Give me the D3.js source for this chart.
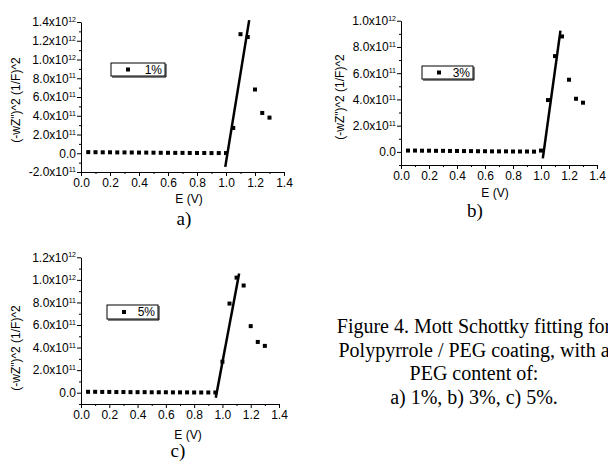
<!DOCTYPE html>
<html>
    <head>
        <title>Mott Schottky</title>
        <style>
body {
    margin: 0;
    background: #fff;
}
svg {
    display: block;
}
        </style>
    </head>
    <body>
        <script src="https://d3js.org/d3.v7.min.js"></script>
        <script>

// E (V) grid shared by the three measurements
const potential = [0.05, 0.10, 0.15, 0.20, 0.25, 0.30, 0.35, 0.40, 0.45, 0.50,
    0.55, 0.60, 0.65, 0.70, 0.75, 0.80, 0.85, 0.90, 0.95, 1.00,
    1.05, 1.10, 1.15, 1.20, 1.25, 1.30]

// (-wZ")^2 values, in units of 1e11
const peg1 = [0.12, 0.11, 0.10, 0.10, 0.09, 0.09, 0.08, 0.07, 0.07, 0.06,
    0.05, 0.05, 0.04, 0.04, 0.03, 0.03, 0.03, 0.02, 0.02, 0.02,
    2.7, 12.7, 12.4, 6.8, 4.3, 3.8]
const peg3 = [0.10, 0.10, 0.09, 0.09, 0.08, 0.08, 0.07, 0.07, 0.06, 0.06,
    0.05, 0.05, 0.04, 0.04, 0.04, 0.03, 0.03, 0.03, 0.02, 0.10,
    3.95, 7.3, 8.8, 5.5, 4.05, 3.75]
const peg5 = [0.08, 0.08, 0.07, 0.07, 0.06, 0.06, 0.05, 0.05, 0.05, 0.04,
    0.04, 0.04, 0.03, 0.03, 0.03, 0.02, 0.02, 0.02, 0.02, 2.75,
    7.9, 10.2, 9.5, 5.9, 4.5, 4.15]

// linear fits, [E, value] end points
const fit1 = [[0.995, -1.45], [1.16, 14.2]]
const fit3 = [[1.013, -0.5], [1.139, 9.24]]
const fit5 = [[0.953, -0.44], [1.118, 10.56]]

const xTicks = [0, 0.2, 0.4, 0.6, 0.8, 1.0, 1.2, 1.4]
const yTicks1 = [-2, 0, 2, 4, 6, 8, 10, 12, 14]
const yTicks3 = [0, 2, 4, 6, 8, 10]
const yTicks5 = [0, 2, 4, 6, 8, 10, 12]

const legends = ["1%", "3%", "5%"]
const panelLabels = ["a)", "b)", "c)"]
const caption = ["Figure 4. Mott Schottky fitting for",
    "Polypyrrole / PEG coating, with a",
    "PEG content of:",
    "a) 1%, b) 3%, c) 5%."]

const sans = "Liberation Sans, Arial, sans-serif"
const serif = "Liberation Serif, Times New Roman, serif"

const svg = d3.select("body").append("svg")
    .attr("width", 608)
    .attr("height", 461)
svg.append("rect").attr("width", 608).attr("height", 461).attr("fill", "#fff")

const panels = [
    {values: peg1, fit: fit1, yTicks: yTicks1, yDomain: [-2, 14],
     xr: [81, 284], yr: [172, 22], legend: [111, 63, 54, 13],
     yTitle: [16, 100], xTitle: [189, 203], label: [184, 225]},
    {values: peg3, fit: fit3, yTicks: yTicks3, yDomain: [-1, 10],
     xr: [401, 597], yr: [165, 20.7], legend: [422, 66, 51, 13],
     yTitle: [340, 97], xTitle: [495, 197], label: [475, 217]},
    {values: peg5, fit: fit5, yTicks: yTicks5, yDomain: [-1, 12],
     xr: [81, 279], yr: [404, 257.3], legend: [107, 305, 51, 14],
     yTitle: [16, 348], xTitle: [188, 439], label: [178, 457]}
]

// 1.4 -> "1.4x10" + "12"
const sci = v => {
    if (v === 0) return ["0.0", ""]
    const full = v * 1e11
    const exp = Math.floor(Math.log10(Math.abs(full)) + 1e-9)
    return [(full / Math.pow(10, exp)).toFixed(1) + "x10", String(exp)]
}

panels.forEach((p, i) => {
    const x = d3.scaleLinear().domain([0, 1.4]).range(p.xr)
    const y = d3.scaleLinear().domain(p.yDomain).range(p.yr)
    const g = svg.append("g")

    // minor ticks
    g.append("g")
        .attr("transform", "translate(0," + p.yr[0] + ")")
        .call(d3.axisBottom(x).tickValues(d3.range(0.1, 1.4, 0.2)).tickSize(2).tickFormat("").tickSizeOuter(0))
        .call(a => a.select(".domain").remove())
    g.append("g")
        .attr("transform", "translate(" + p.xr[0] + ",0)")
        .call(d3.axisLeft(y).tickValues(p.yTicks.map(t => t + 1).filter(t => t < p.yDomain[1])
            .concat(p.yDomain[0] < p.yTicks[0] ? [p.yDomain[0]] : []))
            .tickSize(2).tickFormat("").tickSizeOuter(0))
        .call(a => a.select(".domain").remove())

    // x axis
    g.append("g")
        .attr("transform", "translate(0," + p.yr[0] + ")")
        .call(d3.axisBottom(x).tickValues(xTicks).tickSize(4).tickPadding(2).tickSizeOuter(0)
            .tickFormat(d3.format(".1f")))
        .attr("font-size", 12)
        .attr("font-family", sans)

    // y axis
    g.append("g")
        .attr("transform", "translate(" + p.xr[0] + ",0)")
        .call(d3.axisLeft(y).tickValues(p.yTicks).tickSize(4).tickPadding(1).tickSizeOuter(0))
        .attr("font-size", 12)
        .attr("font-family", sans)
        .selectAll(".tick text")
        .each(function(d) {
            const [m, e] = sci(d)
            const t = d3.select(this).text(null)
            t.append("tspan").text(m)
            if (e) t.append("tspan").attr("font-size", 7).attr("dy", "-0.6em").text(e)
        })

    g.selectAll("path.domain").attr("stroke-width", 1)

    // data points
    g.selectAll(".pt")
        .data(potential.map((e, k) => [e, p.values[k]]))
        .enter()
        .append("rect")
        .attr("x", d => x(d[0]) - 2)
        .attr("y", d => y(d[1]) - 2)
        .attr("width", 4)
        .attr("height", 4)
        .attr("fill", "#000")

    // fit line
    g.append("path")
        .datum(p.fit)
        .attr("d", d3.line().x(d => x(d[0])).y(d => y(d[1])))
        .attr("stroke", "#000")
        .attr("stroke-width", 2.5)
        .attr("fill", "none")

    // legend
    const [lx, ly, lw, lh] = p.legend
    g.append("path")
        .attr("d", "M" + (lx + lw + 1) + "," + (ly + 1) + "V" + (ly + lh + 1) + "H" + (lx + 1))
        .attr("stroke", "#000")
        .attr("fill", "none")
    g.append("rect")
        .attr("x", lx).attr("y", ly).attr("width", lw).attr("height", lh)
        .attr("fill", "#fff").attr("stroke", "#000")
    g.append("rect")
        .attr("x", lx + 15).attr("y", ly + lh / 2 - 2).attr("width", 4).attr("height", 4)
        .attr("fill", "#000")
    g.append("text")
        .attr("x", lx + lw - 3).attr("y", ly + lh / 2)
        .attr("dy", "0.36em")
        .attr("text-anchor", "end")
        .attr("font-size", 12).attr("font-family", sans)
        .text(legends[i])

    // titles
    g.append("text")
        .attr("transform", "translate(" + p.yTitle[0] + "," + p.yTitle[1] + ") rotate(-90)")
        .attr("dy", "0.36em")
        .attr("text-anchor", "middle")
        .attr("font-size", 12).attr("font-family", sans)
        .text("(-wZ\")^2 (1/F)^2")
    g.append("text")
        .attr("x", p.xTitle[0]).attr("y", p.xTitle[1])
        .attr("text-anchor", "middle")
        .attr("font-size", 12).attr("font-family", sans)
        .text("E (V)")
    g.append("text")
        .attr("x", p.label[0]).attr("y", p.label[1])
        .attr("text-anchor", "middle")
        .attr("font-size", 19).attr("font-family", serif)
        .text(panelLabels[i])
})

svg.append("g")
    .selectAll("text")
    .data(caption)
    .enter()
    .append("text")
    .attr("x", 474)
    .attr("y", (d, i) => 333 + i * 23.7)
    .attr("text-anchor", "middle")
    .attr("font-size", 20)
    .attr("font-family", serif)
    .text(d => d)
        </script>
    </body>
</html>
